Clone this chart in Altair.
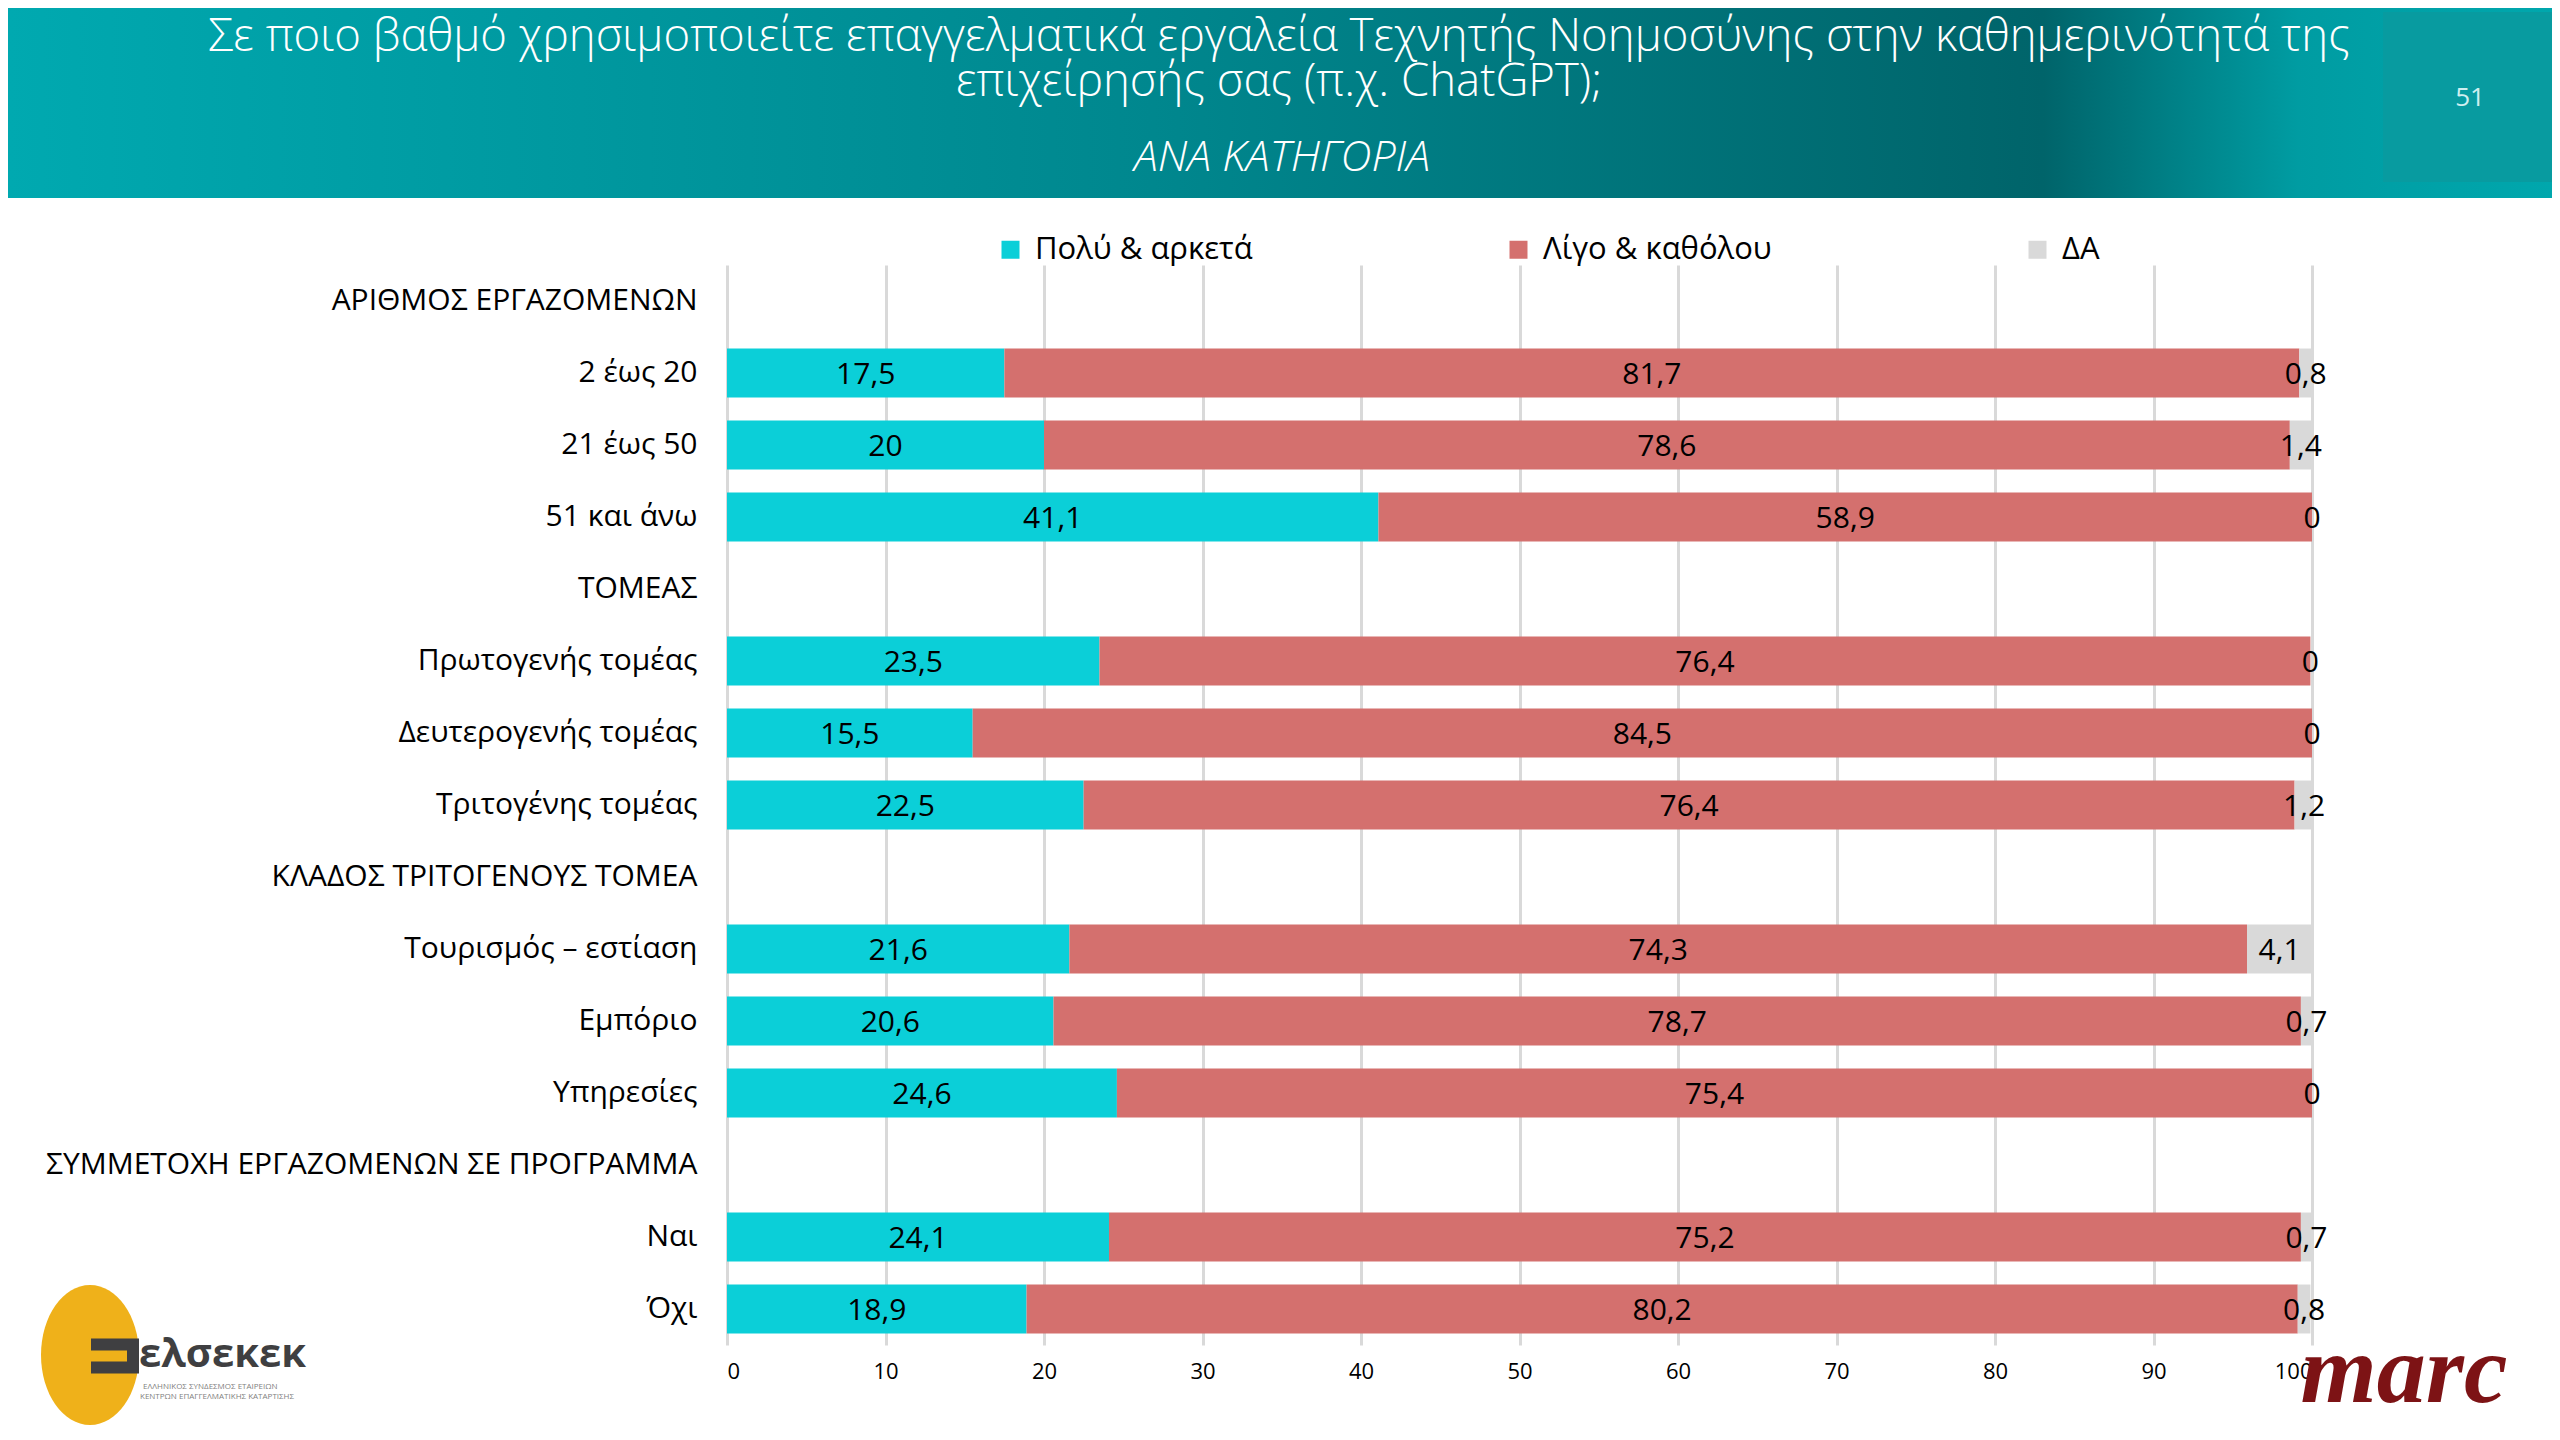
import altair as alt
import pandas as pd

# ---------------- data ----------------
categories = [
    "ΑΡΙΘΜΟΣ ΕΡΓΑΖΟΜΕΝΩΝ", "2 έως 20", "21 έως 50", "51 και άνω",
    "ΤΟΜΕΑΣ", "Πρωτογενής τομέας", "Δευτερογενής τομέας", "Τριτογένης τομέας",
    "ΚΛΑΔΟΣ ΤΡΙΤΟΓΕΝΟΥΣ ΤΟΜΕΑ", "Τουρισμός – εστίαση", "Εμπόριο", "Υπηρεσίες",
    "ΣΥΜΜΕΤΟΧΗ ΕΡΓΑΖΟΜΕΝΩΝ ΣΕ ΠΡΟΓΡΑΜΜΑ", "Ναι", "Όχι",
]
data_rows = [
    "2 έως 20", "21 έως 50", "51 και άνω",
    "Πρωτογενής τομέας", "Δευτερογενής τομέας", "Τριτογένης τομέας",
    "Τουρισμός – εστίαση", "Εμπόριο", "Υπηρεσίες",
    "Ναι", "Όχι",
]
polu = [17.5, 20, 41.1, 23.5, 15.5, 22.5, 21.6, 20.6, 24.6, 24.1, 18.9]
ligo = [81.7, 78.6, 58.9, 76.4, 84.5, 76.4, 74.3, 78.7, 75.4, 75.2, 80.2]
da = [0.8, 1.4, 0, 0, 0, 1.2, 4.1, 0.7, 0, 0.7, 0.8]
series = ["Πολύ & αρκετά", "Λίγο & καθόλου", "ΔΑ"]
colors = ["#0BCFD8", "#D4706E", "#D9D9D9"]
x_ticks = list(range(0, 101, 10))

title_1 = "Σε ποιο βαθμό χρησιμοποιείτε επαγγελματικά εργαλεία Τεχνητής Νοημοσύνης στην καθημερινότητά της"
title_2 = "επιχείρησής σας (π.χ. ChatGPT);"
subtitle = "ΑΝΑ ΚΑΤΗΓΟΡΙΑ"
page_no = "51"

records = []
for i, row in enumerate(data_rows):
    for k, (name, vals) in enumerate(zip(series, [polu, ligo, da])):
        v = vals[i]
        records.append({"cat": row, "series": name, "order": k, "value": v,
                        "label": f"{v:g}".replace(".", ",")})
df = pd.DataFrame(records)

# ---------------- layout ----------------
W, H = 1585, 1080
PAD = {"left": 719, "top": 257, "right": 240, "bottom": 87}
FONT = "Open Sans"

x_axis = alt.Axis(values=x_ticks, title=None, grid=True, gridColor="#D9D9D9",
                  gridWidth=3, ticks=False, domain=False, labelFontSize=22,
                  labelFont=FONT, labelColor="#000000", labelPadding=16)
y_axis = alt.Axis(title=None, ticks=False, domain=False, labelFontSize=30,
                  labelFont=FONT, labelFontWeight=400, labelColor="#000000",
                  labelPadding=30, labelLimit=900)
x_scale = alt.Scale(domain=[0, 100], nice=False)
y_scale = alt.Scale(domain=categories, paddingInner=0.32, paddingOuter=0.16)

base = alt.Chart(df).transform_stack(
    stack="value", groupby=["cat"], sort=[alt.SortField("order")], as_=["x0", "x1"]
).transform_calculate(mid="(datum.x0 + datum.x1) / 2")

bars = base.mark_bar().encode(
    y=alt.Y("cat:N", scale=y_scale, axis=y_axis),
    x=alt.X("x0:Q", scale=x_scale, axis=x_axis),
    x2="x1:Q",
    color=alt.Color("series:N", scale=alt.Scale(domain=series, range=colors),
                    legend=alt.Legend(title=None, orient="none", legendX=268, legendY=-31,
                                      direction="horizontal", symbolType="square",
                                      symbolSize=324, symbolStrokeWidth=0,
                                      labelFontSize=31, labelFont=FONT, labelFontWeight=500,
                                      labelColor="#000000", labelOffset=9,
                                      columnPadding=250, labelLimit=500)),
)

labels = base.mark_text(font=FONT, fontSize=30, fontWeight=500, color="#000000",
                        baseline="middle", dy=2).encode(
    y=alt.Y("cat:N", scale=y_scale, axis=y_axis),
    x=alt.X("mid:Q", scale=x_scale, axis=x_axis),
    text="label:N",
)

one = pd.DataFrame({"a": [0]})

header = alt.Chart(one).mark_rect(
    color=alt.Gradient(gradient="linear", x1=0, x2=1, y1=0, y2=0, stops=[
        alt.GradientStop(offset=0, color="#00A9B0"),
        alt.GradientStop(offset=0.45, color="#00878E"),
        alt.GradientStop(offset=0.8, color="#00646A"),
        alt.GradientStop(offset=0.9, color="#009CA2"),
        alt.GradientStop(offset=1, color="#00A7AD"),
    ])
).encode(x=alt.value(-PAD["left"]), x2=alt.value(W + PAD["right"]),
         y=alt.value(-PAD["top"]), y2=alt.value(-67))

page_box = alt.Chart(one).mark_rect(color="#089BA0").encode(
    x=alt.value(1656), x2=alt.value(W + PAD["right"]), y=alt.value(-253), y2=alt.value(-83))

def txt(text, x, y, size, color="#FFFFFF", weight=300, style="normal", font=FONT,
        align="center", baseline="middle"):
    return alt.Chart(one).mark_text(text=text, font=font, fontSize=size, color=color,
                                    fontWeight=weight, fontStyle=style, align=align,
                                    baseline=baseline).encode(x=alt.value(x), y=alt.value(y))

t1 = txt(title_1, 552, -228, 45.5)
t2 = txt(title_2, 552, -183, 45.5)
t3 = txt(subtitle, 555, -107, 43, style="italic")
pn = txt(page_no, 1743, -167, 26, color="#CFEFF0", weight=400)

# logos (decorative)
ellipse = alt.Chart(one).mark_point(
    shape="M0,-1 A0.7,1 0 1,1 0,1 A0.7,1 0 1,1 0,-1 Z", size=19600, filled=True,
    color="#EFB11A", opacity=1, strokeWidth=0
).encode(x=alt.value(-637), y=alt.value(1090))
bracket = alt.Chart(one).mark_point(
    shape="M-1,-0.73 H1 V0.73 H-1 V0.23 H0.5 V-0.23 H-1 Z", size=2304, filled=True,
    color="#3F3F41", opacity=1, strokeWidth=0
).encode(x=alt.value(-612), y=alt.value(1091))
elsekek = txt("ελσεκεκ", -588, 1090, 40, color="#3F3F41", weight=700, align="left")
small1 = txt("ΕΛΛΗΝΙΚΟΣ ΣΥΝΔΕΣΜΟΣ ΕΤΑΙΡΕΙΩΝ", -584, 1122, 8, color="#7F7F7F", weight=400, align="left")
small2 = txt("ΚΕΝΤΡΩΝ ΕΠΑΓΓΕΛΜΑΤΙΚΗΣ ΚΑΤΑΡΤΙΣΗΣ", -587, 1132, 8, color="#7F7F7F", weight=400, align="left")
marc = txt("marc", 1677, 1137, 98, color="#7D1315", weight=700, style="italic",
           font="Liberation Serif", baseline="alphabetic")

chart = alt.layer(
    header, page_box, t1, t2, t3, pn, bars, labels, ellipse, bracket, elsekek, small1, small2, marc
).properties(
    width=W, height=H, padding=PAD, autosize=alt.AutoSizeParams(type="none"),
    background="#FFFFFF",
).configure_view(strokeWidth=0)

chart.save("out.html", embed_options={"renderer": "svg", "actions": False})
